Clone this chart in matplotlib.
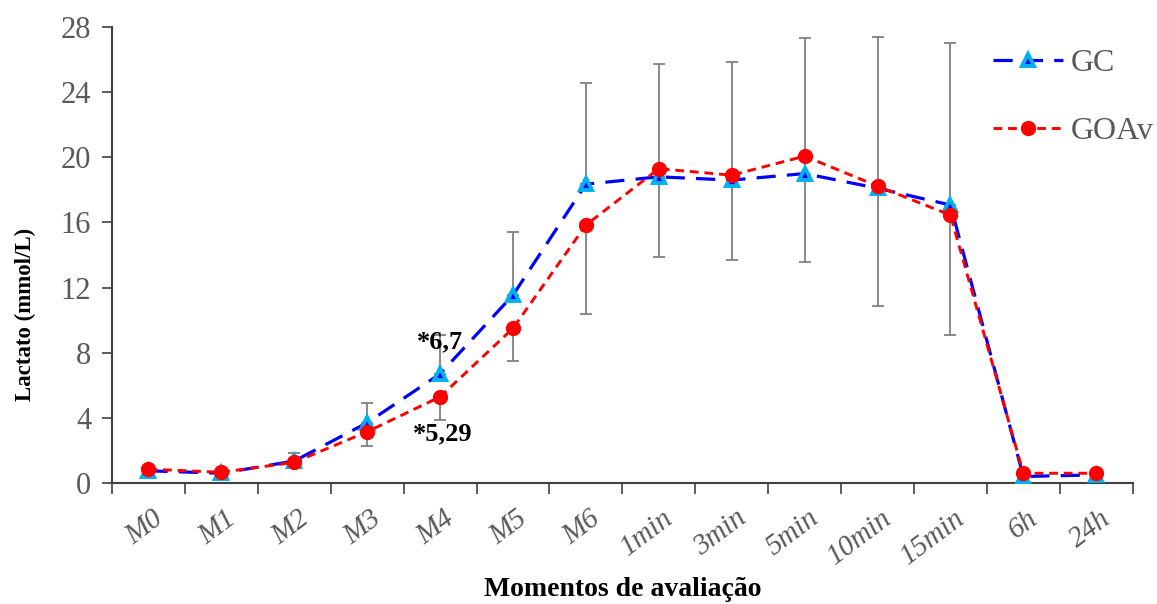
import numpy as np
import matplotlib
matplotlib.use("Agg")
import matplotlib.pyplot as plt

plt.rcParams['font.family'] = ['Liberation Serif', 'DejaVu Serif']

# Data
momentos = ['M0', 'M1', 'M2', 'M3', 'M4', 'M5', 'M6', '1min', '3min',
            '5min', '10min', '15min', '6h', '24h']
gc = [0.75, 0.6, 1.35, 3.7, 6.7, 11.54, 18.35, 18.8, 18.6, 19.0, 18.1, 17.07, 0.4, 0.5]
goav = [0.85, 0.66, 1.27, 3.15, 5.29, 9.5, 15.84, 19.3, 18.9, 20.07, 18.23, 16.45, 0.6, 0.6]
gc_err_up = [0.2, 0.2, 0.5, 1.23, 2.4, 3.86, 6.2, 6.9, 7.27, 8.3, 9.28, 9.93, 0.1, 0.1]
goav_err_down = [0.2, 0.2, 0.3, 0.86, 1.39, 2.0, 5.47, 5.4, 5.2, 6.52, 7.36, 7.38, 0.1, 0.1]

x = np.arange(len(momentos)) + 0.5

fig = plt.figure(figsize=(11.57, 6.04), dpi=100)
ax = fig.add_axes([0.0968, 0.2003, 0.8822, 0.755])

# error bars: upward for GC, downward for GOAv
ax.errorbar(x, gc, yerr=[np.zeros(len(gc)), gc_err_up], fmt='none',
            ecolor='#808080', elinewidth=1.3, capsize=4.3, capthick=1.3, zorder=2)
ax.errorbar(x, goav, yerr=[goav_err_down, np.zeros(len(goav))], fmt='none',
            ecolor='#808080', elinewidth=1.3, capsize=4.3, capthick=1.3, zorder=2)

ax.plot(x, gc, color='#0000ff', linestyle=(0, (6, 3.5)), linewidth=2.3,
        marker='^', markersize=8.5, markerfacecolor='#0000ff',
        markeredgecolor='#00b0f0', markeredgewidth=2.8, label='GC', zorder=3)
ax.plot(x, goav, color='#ff0000', linestyle=(0, (3, 2)), linewidth=2.1,
        marker='o', markersize=10, markerfacecolor='#ff0000',
        markeredgecolor='#ff0000', label='GOAv', zorder=4)

ax.text(x[4], 8.65, '*6,7', ha='center', va='center', fontsize=19,
        fontweight='bold', color='black')
ax.text(x[4] + 0.03, 3.05, '*5,29', ha='center', va='center', fontsize=19,
        fontweight='bold', color='black')

ax.set_xlim(0, len(momentos))
ax.set_ylim(0, 28)
ax.set_yticks(np.arange(0, 29, 4))
ax.set_xticks(np.arange(len(momentos) + 1))
ax.set_xticklabels([])
ax.set_xticks(x + 0.05, minor=True)
ax.set_xticklabels(momentos, minor=True, rotation=37, ha='right', va='top',
                   rotation_mode='anchor', fontstyle='italic', fontsize=21,
                   color='#595959')
ax.tick_params(axis='x', which='minor', length=0, pad=16)
ax.tick_params(axis='x', which='major', length=8, width=1.2, color='#404040')
ax.tick_params(axis='y', length=7, width=1.2, color='#404040',
               labelsize=22, labelcolor='#595959', pad=8)

for s in ['top', 'right']:
    ax.spines[s].set_visible(False)
for s in ['left', 'bottom']:
    ax.spines[s].set_color('#404040')
    ax.spines[s].set_linewidth(1.5)

ax.set_ylabel('Lactato (mmol/L)', fontsize=16.5, fontweight='bold')
ax.yaxis.set_label_coords(-0.074, 0.37)
ax.set_xlabel('Momentos de avaliação', fontsize=20, fontweight='bold')
ax.xaxis.set_label_coords(0.5, -0.205)

leg = ax.legend(loc='upper left', bbox_to_anchor=(0.847, 0.94),
                bbox_transform=fig.transFigure, borderaxespad=0, frameon=False,
                fontsize=23, handlelength=2.2, labelspacing=1.2,
                handletextpad=0.25)
for t in leg.get_texts():
    t.set_color('#595959')

fig.savefig('out.png', dpi=100)
